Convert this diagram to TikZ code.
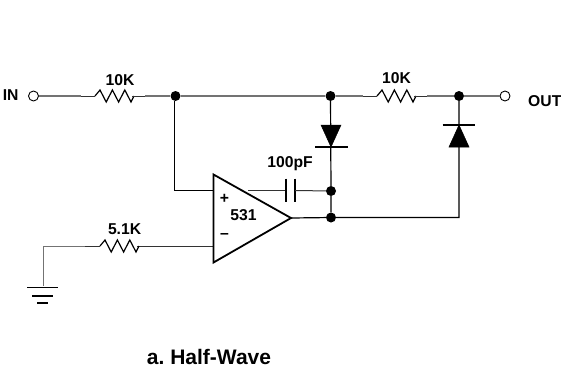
\documentclass[tikz,border=0pt]{standalone}
\usepackage{fontspec}
\setmainfont{Liberation Sans}
\usetikzlibrary{calc}
\tikzset{
  x=1pt,y=-1pt,
  wire/.style={line width=1pt,draw=black!80},
  gwire/.style={line width=1.4pt,draw=black!55},
  dot/.style={circle,fill=black,inner sep=0pt,minimum size=10pt},
  term/.style={circle,draw=black,fill=white,line width=0.9pt,inner sep=0pt,minimum size=10pt},
  lbl/.style={font=\frenchspacing\bfseries\fontsize{15.7}{17}\selectfont,inner sep=0pt,text=black,anchor=base},
  sym/.style={line width=1.2pt,draw=black,line join=miter},
  diofill/.style={fill=black,draw=black,line width=0.5pt},
}
\newcommand{\zig}[2]{%
  \draw[sym] (#1,#2) -- ++(5,-6) -- ++(6.2,12) -- ++(6.2,-12) -- ++(6.2,12) -- ++(6.2,-12) -- ++(6.2,12) -- ++(3,-6);}
\begin{document}
\begin{tikzpicture}
\useasboundingbox (0,0) rectangle (561,370);
\fill[white] (0,0) rectangle (561,370);
% coordinates
\node[term] (in) at (33.5,96) {};
\node[term] (out) at (505,96) {};
\node[dot] (j1) at (175.5,96) {};
\node[dot] (j2) at (330.5,96) {};
\node[dot] (j3) at (459,96) {};
\node[dot] (j4) at (331,191) {};
\node[dot] (j5) at (331,217.5) {};
\coordinate (r1a) at (81,96); \coordinate (r1b) at (145,96);
\coordinate (r2a) at (363,96); \coordinate (r2b) at (427,96);
\coordinate (r3a) at (85,246); \coordinate (r3b) at (150,246);
\coordinate (gndc) at (43.5,246); \coordinate (gnd) at (43.5,286);
\coordinate (oplus) at (213.5,190.5); \coordinate (ominus) at (213.5,246);
\coordinate (oout) at (291,218);
\coordinate (cl) at (286,190.5); \coordinate (cr) at (295,190.5);
% wires
\draw[gwire] (in) -- (r1a);
\draw[wire] (r1a) -- (95,96);
\zig{95}{96}
\draw[wire] (132,96) -- (r1b);
\draw[gwire] (r1b) -- (j1);
\draw[gwire] (j1) -- (j2);
\draw[gwire] (j2) -- (r2a);
\draw[wire] (r2a) -- (377,96);
\zig{377}{96}
\draw[wire] (414,96) -- (r2b);
\draw[gwire] (r2b) -- (j3);
\draw[gwire] (j3) -- (out);
\draw[sym] (j1.south) ++(-1,0) |- (oplus);
\draw[sym] (oout) -- (j5) -- (459,217.5) -- (j3);
\draw[sym] (j2) -- (j4) -- (j5);
\draw[wire] (ominus) -- (r3b);
\draw[wire] (r3b) -- (137,246);
\zig{100}{246}
\draw[wire] (100,246) -- (r3a);
\draw[gwire,line width=1pt] (r3a) -- (gndc) -- (gnd);
% capacitor
\draw[wire] (248,190.5) -- (cl);
\draw[sym,line width=1.3pt] (cl) ++(0,-12) -- ++(0,23);
\draw[sym,line width=1.3pt] (cr) ++(0,-12) -- ++(0,23);
\draw[wire] (cr) -- (j4);
% opamp
\node[lbl,anchor=center] (plus) at (224.5,199) {+};
\node[lbl,anchor=center] (minus) at (224.5,236) {–};
\node[lbl] (u) at (243.5,220.7) {531};
\draw[line width=1.8pt,draw=black,fill=none,line join=miter] (213.5,174.5) -- (oout) -- (213.5,262.5) -- cycle;
% diodes
\fill[diofill] (321,125) -- (341,125) -- (331,147) -- cycle;
\draw[sym] (315,147) -- (347.5,147);
\fill[diofill] (449,147) -- (469,147) -- (459,125) -- cycle;
\draw[sym] (442.5,125) -- (475,125);
% ground
\draw[sym,line width=1.5pt] (27,287.5) -- (57.5,287.5);
\draw[sym,line width=1.5pt] (32,296) -- (53,296);
\draw[sym,line width=1.5pt] (37,303) -- (48,303);
% labels
\node[lbl] (lin) at (10.7,100) {IN};
\node[lbl] (lr1) at (120,85) {10K};
\node[lbl] (lr2) at (396.5,83.3) {10K};
\node[lbl,anchor=base west] (lout) at (528,106.7) {OUT};
\node[lbl] (lc) at (290,167.3) {100pF};
\node[lbl] (lr3) at (124.6,234) {5.1K};
\node[lbl,font=\frenchspacing\bfseries\fontsize{21}{23}\selectfont] (cap) at (209,364) {a. Half-Wave};
\end{tikzpicture}
\end{document}
